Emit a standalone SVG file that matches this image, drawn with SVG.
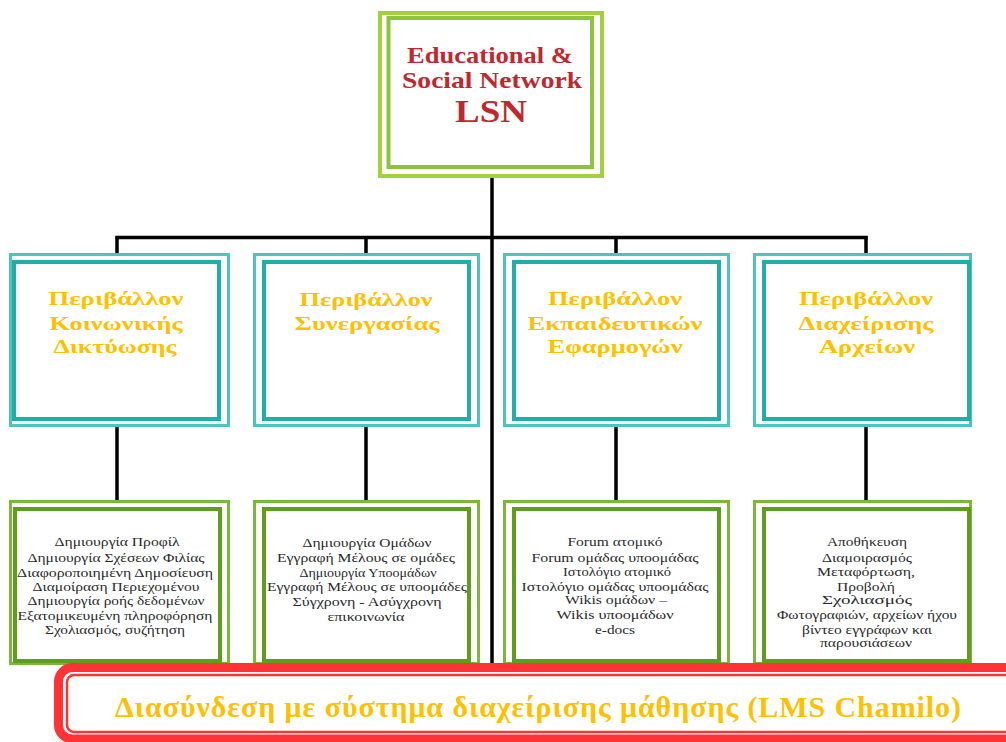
<svg xmlns="http://www.w3.org/2000/svg" width="1006" height="742" viewBox="0 0 1006 742">
<style>
.bg{fill:#ffffff}
.conn{stroke:#000000;stroke-width:3.5;fill:none}
.topO{fill:#ffffff;stroke:#A3D13B;stroke-width:4}
.topI{fill:none;stroke:#8DC43A;stroke-width:4}
.midO{fill:#ffffff;stroke:#4CC4BF;stroke-width:3}
.midI{fill:none;stroke:#1FAFA9;stroke-width:4}
.botO{fill:#ffffff;stroke:#7AB83A;stroke-width:3}
.botI{fill:none;stroke:#5E9E1A;stroke-width:4}
.title{font-family:"Liberation Serif","DejaVu Serif",serif;font-weight:bold;fill:#C1272D;text-anchor:middle}
.mid{font-family:"Liberation Serif","DejaVu Serif",serif;font-weight:bold;font-size:19px;fill:#FFC000;text-anchor:middle}
.bot{font-family:"Liberation Serif","DejaVu Serif",serif;font-size:11.5px;fill:#2a2a2a;text-anchor:middle}
.banO{fill:#ffffff;stroke:#FF3333;stroke-width:9}
.banI{fill:none;stroke:#FF3333;stroke-width:2.5}
.ban{font-family:"Liberation Serif","DejaVu Serif",serif;font-weight:bold;font-size:30px;fill:#FFC000}
</style>
<rect class="bg" x="0" y="0" width="1006" height="742"/>

<g id="connectors">
<line class="conn" x1="492" y1="176" x2="492" y2="664"/>
<line class="conn" x1="115.5" y1="237.5" x2="867.5" y2="237.5"/>
<line class="conn" x1="117" y1="236" x2="117" y2="254"/>
<line class="conn" x1="366" y1="236" x2="366" y2="254"/>
<line class="conn" x1="616" y1="236" x2="616" y2="254"/>
<line class="conn" x1="866" y1="236" x2="866" y2="254"/>
<line class="conn" x1="117" y1="426" x2="117" y2="501"/>
<line class="conn" x1="366" y1="426" x2="366" y2="501"/>
<line class="conn" x1="616" y1="426" x2="616" y2="501"/>
<line class="conn" x1="866" y1="426" x2="866" y2="501"/>
</g>

<g id="node-lsn">
<rect class="topO" x="380" y="13" width="222" height="163"/>
<rect class="topI" x="388.5" y="18" width="203.5" height="149"/>
<text class="title" x="490" y="63" font-size="23" textLength="166" lengthAdjust="spacingAndGlyphs">Educational &amp;</text>
<text class="title" x="492" y="88" font-size="23" textLength="180" lengthAdjust="spacingAndGlyphs">Social Network</text>
<text class="title" x="491" y="122" font-size="31" textLength="72" lengthAdjust="spacingAndGlyphs">LSN</text>
</g>

<g id="node-env-social">
<rect class="midO" x="10.5" y="254.5" width="218" height="171"/>
<rect class="midI" x="14" y="262" width="205" height="157"/>
<text class="mid" x="116" y="305" textLength="135" lengthAdjust="spacingAndGlyphs">Περιβάλλον</text>
<text class="mid" x="116" y="330" textLength="133" lengthAdjust="spacingAndGlyphs">Κοινωνικής</text>
<text class="mid" x="115" y="353" textLength="123" lengthAdjust="spacingAndGlyphs">Δικτύωσης</text>
</g>

<g id="node-env-collab">
<rect class="midO" x="254.5" y="254.5" width="224" height="171"/>
<rect class="midI" x="264" y="262" width="205" height="157"/>
<text class="mid" x="366" y="306" textLength="133" lengthAdjust="spacingAndGlyphs">Περιβάλλον</text>
<text class="mid" x="367" y="330" textLength="145" lengthAdjust="spacingAndGlyphs">Συνεργασίας</text>
</g>

<g id="node-env-edu">
<rect class="midO" x="504.5" y="254.5" width="224" height="171"/>
<rect class="midI" x="514" y="262" width="205" height="157"/>
<text class="mid" x="615" y="305" textLength="134" lengthAdjust="spacingAndGlyphs">Περιβάλλον</text>
<text class="mid" x="615" y="330" textLength="175" lengthAdjust="spacingAndGlyphs">Εκπαιδευτικών</text>
<text class="mid" x="615" y="353" textLength="135" lengthAdjust="spacingAndGlyphs">Εφαρμογών</text>
</g>

<g id="node-env-files">
<rect class="midO" x="754.5" y="254.5" width="216" height="171"/>
<rect class="midI" x="764" y="262" width="205" height="157"/>
<text class="mid" x="866" y="305" textLength="134" lengthAdjust="spacingAndGlyphs">Περιβάλλον</text>
<text class="mid" x="866" y="330" textLength="135" lengthAdjust="spacingAndGlyphs">Διαχείρισης</text>
<text class="mid" x="867" y="353" textLength="96" lengthAdjust="spacingAndGlyphs">Αρχείων</text>
</g>

<g id="node-social-features">
<rect class="botO" x="10.5" y="501.5" width="218" height="162"/>
<rect class="botI" x="15" y="509" width="205" height="152"/>
<text class="bot" x="117" y="546" textLength="125" lengthAdjust="spacingAndGlyphs">Δημιουργία Προφίλ</text>
<text class="bot" x="116" y="562" textLength="177" lengthAdjust="spacingAndGlyphs">Δημιουργία Σχέσεων Φιλίας</text>
<text class="bot" x="115" y="577" textLength="196" lengthAdjust="spacingAndGlyphs">Διαφοροποιημένη  Δημοσίευση</text>
<text class="bot" x="116" y="591" textLength="167" lengthAdjust="spacingAndGlyphs">Διαμοίραση Περιεχομένου</text>
<text class="bot" x="116" y="605" textLength="177" lengthAdjust="spacingAndGlyphs">Δημιουργία ροής δεδομένων</text>
<text class="bot" x="115" y="620" textLength="195" lengthAdjust="spacingAndGlyphs">Εξατομικευμένη πληροφόρηση</text>
<text class="bot" x="115" y="634" textLength="140" lengthAdjust="spacingAndGlyphs">Σχολιασμός, συζήτηση</text>
</g>

<g id="node-collab-features">
<rect class="botO" x="254.5" y="501.5" width="224" height="162"/>
<rect class="botI" x="264" y="509" width="205" height="152"/>
<text class="bot" x="367" y="547" textLength="129" lengthAdjust="spacingAndGlyphs">Δημιουργία Ομάδων</text>
<text class="bot" x="366" y="562" textLength="178" lengthAdjust="spacingAndGlyphs">Εγγραφή Μέλους σε ομάδες</text>
<text class="bot" x="368" y="577" textLength="137" lengthAdjust="spacingAndGlyphs">Δημιουργία Υποομάδων</text>
<text class="bot" x="367" y="591" textLength="200" lengthAdjust="spacingAndGlyphs">Εγγραφή Μέλους σε υποομάδες</text>
<text class="bot" x="367" y="606" textLength="149" lengthAdjust="spacingAndGlyphs">Σύγχρονη - Ασύγχρονη</text>
<text class="bot" x="366" y="621" textLength="77" lengthAdjust="spacingAndGlyphs">επικοινωνία</text>
</g>

<g id="node-edu-features">
<rect class="botO" x="504.5" y="501.5" width="224" height="162"/>
<rect class="botI" x="514" y="509" width="205" height="152"/>
<text class="bot" x="615" y="546" textLength="95" lengthAdjust="spacingAndGlyphs">Forum ατομικό</text>
<text class="bot" x="615" y="562" textLength="167" lengthAdjust="spacingAndGlyphs">Forum ομάδας υποομάδας</text>
<text class="bot" x="617" y="576" textLength="108" lengthAdjust="spacingAndGlyphs">Ιστολόγιο ατομικό</text>
<text class="bot" x="615" y="591" textLength="187" lengthAdjust="spacingAndGlyphs">Ιστολόγιο ομάδας υποομάδας</text>
<text class="bot" x="616" y="604" textLength="102" lengthAdjust="spacingAndGlyphs">Wikis ομάδων –</text>
<text class="bot" x="615" y="619" textLength="117" lengthAdjust="spacingAndGlyphs">Wikis  υποομάδων</text>
<text class="bot" x="615" y="634" textLength="40" lengthAdjust="spacingAndGlyphs">e-docs</text>
</g>

<g id="node-file-features">
<rect class="botO" x="754.5" y="501.5" width="216" height="162"/>
<rect class="botI" x="764" y="509" width="205" height="152"/>
<text class="bot" x="867" y="546" textLength="80" lengthAdjust="spacingAndGlyphs">Αποθήκευση</text>
<text class="bot" x="867" y="562" textLength="90" lengthAdjust="spacingAndGlyphs">Διαμοιρασμός</text>
<text class="bot" x="866" y="576" textLength="98" lengthAdjust="spacingAndGlyphs">Μεταφόρτωση,</text>
<text class="bot" x="866" y="591" textLength="58" lengthAdjust="spacingAndGlyphs">Προβολή</text>
<text class="bot" x="867" y="604" textLength="90" lengthAdjust="spacingAndGlyphs">Σχολιασμός</text>
<text class="bot" x="867" y="619" textLength="180" lengthAdjust="spacingAndGlyphs">Φωτογραφιών, αρχείων ήχου</text>
<text class="bot" x="867" y="634" textLength="130" lengthAdjust="spacingAndGlyphs">βίντεο εγγράφων και</text>
<text class="bot" x="866" y="647" textLength="92" lengthAdjust="spacingAndGlyphs">παρουσιάσεων</text>
</g>

<g id="node-lms">
<rect class="banO" x="58.5" y="667.5" width="1000" height="71.5" rx="14" ry="14"/>
<rect class="banI" x="67" y="675" width="990" height="57" rx="7" ry="7"/>
<text class="ban" x="115" y="717" textLength="846" lengthAdjust="spacing">Διασύνδεση με σύστημα διαχείρισης μάθησης (LMS Chamilo)</text>
</g>
</svg>
